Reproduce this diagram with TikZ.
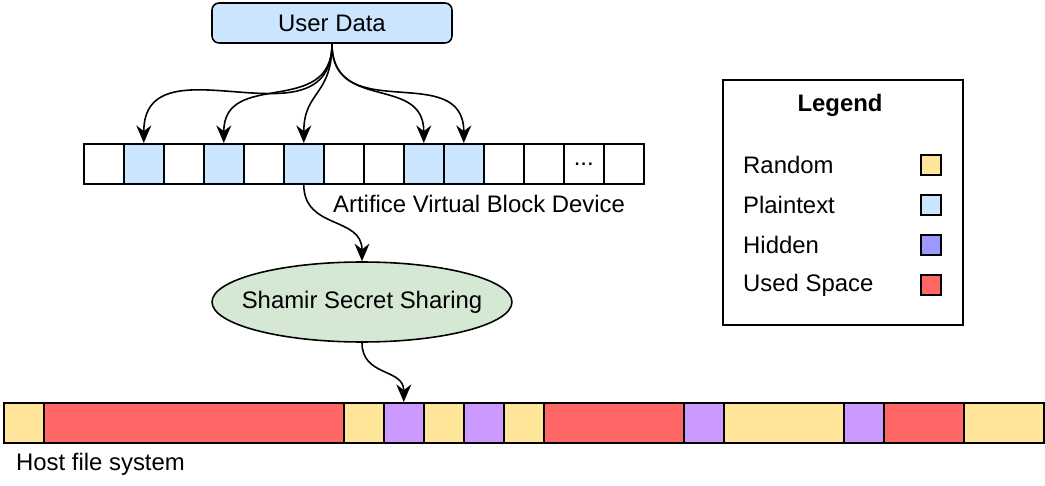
\documentclass[tikz,border=0pt]{standalone}
\usepackage{fontspec}
\setmainfont{Liberation Sans}
\usetikzlibrary{arrows.meta, positioning, shapes.geometric}
\definecolor{plain}{HTML}{CCE5FF}
\definecolor{rand}{HTML}{FFE599}
\definecolor{used}{HTML}{FF6666}
\definecolor{hidden}{HTML}{CC99FF}
\definecolor{hiddenkey}{HTML}{9999FF}
\definecolor{shamir}{HTML}{D5E8D4}

\tikzset{
  cell/.style={draw, line width=0.9pt, minimum width=0.8cm, minimum height=0.8cm,
               inner sep=0pt, anchor=north west},
  flow/.style={-{Stealth[length=10pt, width=8.5pt]}, line width=0.9pt},
  keybox/.style={draw, line width=0.9pt, minimum size=0.4cm, inner sep=0pt},
  every node/.style={font=\fontsize{13.6pt}{16pt}\selectfont},
}

\begin{document}
\begin{tikzpicture}[x=0.02cm, y=-0.02cm]
  \useasboundingbox (0,0) rectangle (1045,486);

  % Nutzerdaten
  \node[draw, line width=0.9pt, rounded corners=4pt, fill=plain,
        minimum width=4.8cm, minimum height=0.8cm] (ud) at (332,23) {User Data};

  % virtuelles Blockgeraet
  \foreach \i/\col in {0/white, 1/plain, 2/white, 3/plain, 4/white, 5/plain, 6/white,
                       7/white, 8/plain, 9/plain, 10/white, 11/white, 13/white} {
    \node[cell, fill=\col] (v\i) at ({83+40*\i},143) {};
  }
  \node[cell, fill=white] (v12) at (563,143) {...};
  \node[anchor=west] (vbdlabel) at (327,204) {Artifice Virtual Block Device};

  % Verteilung der Daten
  \foreach \i in {1,3,5,8,9} {
    \draw[flow] (ud.south) to[out=-90, in=90, looseness=1.3] (v\i.north);
  }

  % Shamir
  \node[ellipse, draw, line width=0.9pt, fill=shamir, inner sep=0pt,
        minimum width=6cm, minimum height=1.6cm,
        label={center:Shamir Secret Sharing}] (sss) at (362,302) {};
  \draw[flow] (v5.south) to[out=-90, in=90, looseness=1.2] (sss.north);

  % Host-Dateisystem
  \foreach \a/\b/\col [count=\k] in {3/43/rand, 43/343/used, 343/383/rand, 383/423/hidden,
                                     423/463/rand, 463/503/hidden, 503/543/rand,
                                     543/683/used, 683/723/hidden, 723/843/rand,
                                     843/883/hidden, 883/963/used, 963/1043/rand} {
    \node[cell, fill=\col, minimum width={(\b-\a)*0.02cm}] (h\k) at (\a,402) {};
  }
  \node[anchor=west] (hostlabel) at (10,464) {Host file system};
  \draw[flow] (sss.south) to[out=-90, in=90, looseness=1.2] (h4.north);

  % Legende
  \node[draw, line width=0.9pt, anchor=north west,
        minimum width=4.8cm, minimum height=4.9cm] (legend) at (722,79) {};
  \node[font=\fontsize{13.6pt}{16pt}\selectfont\bfseries] (legtitle) at (840,105) {Legend};
  \foreach \name/\col [count=\k] in {Random/rand, Plaintext/plain, Hidden/hiddenkey,
                                     Used Space/used} {
    \node[anchor=west] (lt\k) at (737,{125+40*\k}) {\name};
    \node[keybox, fill=\col] (lk\k) at (931,{125+40*\k}) {};
  }
\end{tikzpicture}
\end{document}
